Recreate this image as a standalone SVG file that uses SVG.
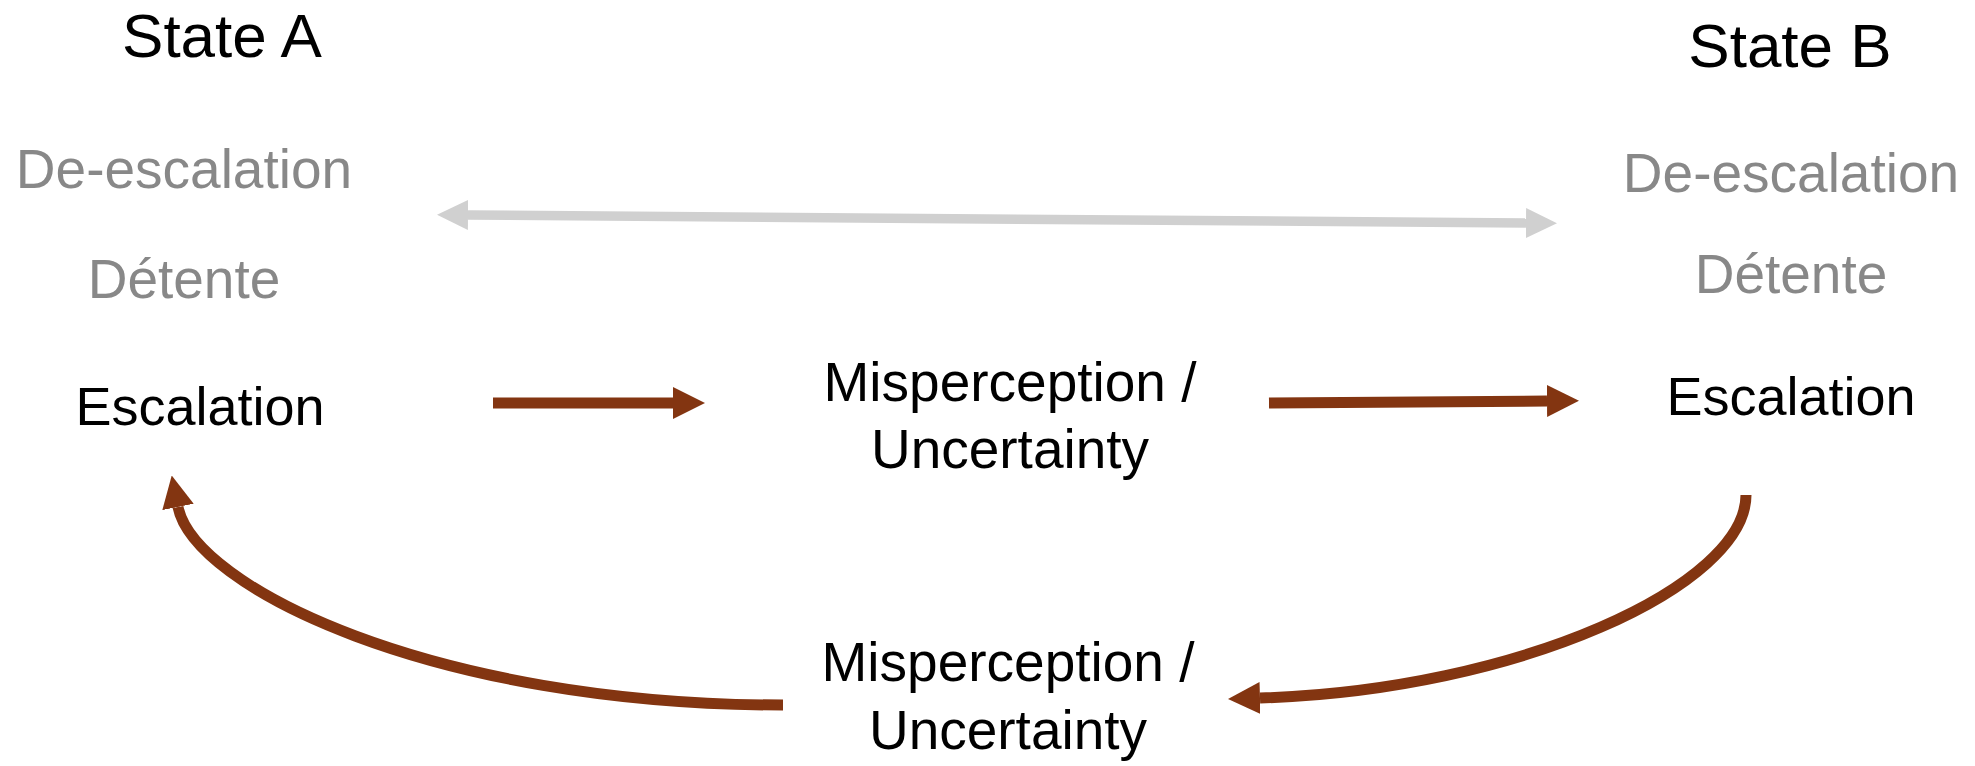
<svg xmlns="http://www.w3.org/2000/svg" width="1975" height="766" viewBox="0 0 1975 766">
<style>
text{font-family:"Liberation Sans",Arial,sans-serif;text-anchor:middle}
.title{font-size:62px;fill:#000}
.gray{font-size:55px;fill:#888888}
.esc{font-size:54px;fill:#000}
.mis{font-size:55px;fill:#000}
.brown{fill:none;stroke:#833511;stroke-width:11}
.light{fill:none;stroke:#d0d0d0;stroke-width:9.5}
</style>
<defs>
<marker id="ah" markerUnits="userSpaceOnUse" markerWidth="32" markerHeight="32" refX="0" refY="15.5" orient="auto" viewBox="0 0 31 31">
<path d="M0,0 L31,15.5 L0,31 Z" fill="#833511"/>
</marker>
<marker id="gh" markerUnits="userSpaceOnUse" markerWidth="31" markerHeight="30" refX="0" refY="14.5" orient="auto-start-reverse" viewBox="0 0 30 29">
<path d="M0,0 L30,14.5 L0,29 Z" fill="#d0d0d0"/>
</marker>
</defs>
<g id="stateA">
<text class="title" x="222" y="57">State A</text>
<text class="gray" x="184" y="188">De-escalation</text>
<text class="gray" x="184" y="298">Détente</text>
<text class="esc" x="200" y="425">Escalation</text>
</g>
<g id="stateB">
<text class="title" x="1790" y="67">State B</text>
<text class="gray" x="1791" y="192">De-escalation</text>
<text class="gray" x="1791" y="293">Détente</text>
<text class="esc" x="1791" y="415">Escalation</text>
</g>
<g id="mis-top">
<text class="mis" x="1010" y="401">Misperception /</text>
<text class="mis" x="1010" y="468">Uncertainty</text>
</g>
<g id="mis-bottom">
<text class="mis" x="1008" y="681">Misperception /</text>
<text class="mis" x="1008" y="749">Uncertainty</text>
</g>
<g id="connectors">
<path class="light" d="M468,215 L1526,223" marker-start="url(#gh)" marker-end="url(#gh)"/>
<path class="brown" d="M493,403 L673,403" marker-end="url(#ah)"/>
<path class="brown" d="M1269,403 L1547,401" marker-end="url(#ah)"/>
<path class="brown" d="M1746,495 C1746,585 1520,690 1260,698" marker-end="url(#ah)"/>
<path class="brown" d="M783,705 C433,705 194,587 178,507" marker-end="url(#ah)"/>
</g>
</svg>
